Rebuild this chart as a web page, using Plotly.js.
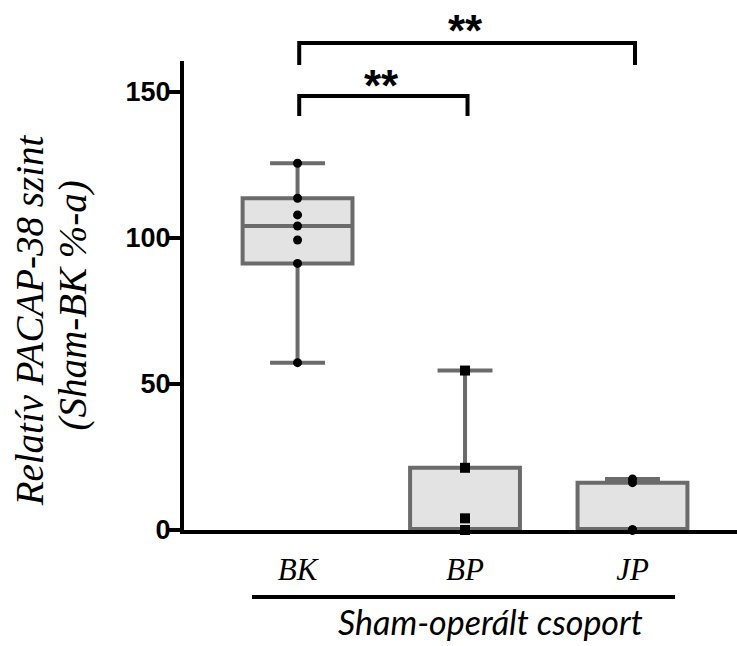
<!DOCTYPE html>
<html>
<head>
<meta charset="utf-8">
<script src="https://cdn.plot.ly/plotly-3.0.1.min.js"></script>
<style>
  html, body { margin: 0; padding: 0; background: #ffffff; }
  #chart { width: 737px; height: 646px; }
</style>
</head>
<body>
<div id="chart"></div>
<script>
// Groups of the sham-operated cohort
const groups = ['BK', 'BP', 'JP'];

// Relative PACAP-38 level per animal (% of Sham-BK)
const valuesBK = [125.6, 113.6, 107.9, 104.1, 99.3, 91.3, 57.3];
const valuesBP = [54.6, 21.3, 4.0, 0, 0, 0, 0];
const valuesJP = [17.5, 16.2, 0, 0, 0, 0];

// Y axis ticks
const yTicks = [0, 50, 100, 150];

// Significance comparisons: [from group, to group, label]
const comparisons = [
  ['BK', 'BP', '**'],
  ['BK', 'JP', '**']
];

const SERIF = 'Liberation Serif';
const SANS = 'Liberation Sans';

// Quartiles with the median excluded from both halves, whiskers to min/max
function median(sorted) {
  const n = sorted.length;
  const m = Math.floor(n / 2);
  return n % 2 ? sorted[m] : (sorted[m - 1] + sorted[m]) / 2;
}
function boxStats(vals) {
  const s = vals.slice().sort((a, b) => a - b);
  const n = s.length;
  return {
    min: s[0],
    max: s[n - 1],
    med: median(s),
    q1: median(s.slice(0, Math.floor(n / 2))),
    q3: median(s.slice(Math.ceil(n / 2)))
  };
}

const allValues = [valuesBK, valuesBP, valuesJP];
const stats = allValues.map(boxStats);

const boxTrace = {
  type: 'box',
  x: groups,
  q1: stats.map(s => s.q1),
  median: stats.map(s => s.med),
  q3: stats.map(s => s.q3),
  lowerfence: stats.map(s => s.min),
  upperfence: stats.map(s => s.max),
  boxpoints: false,
  width: 0.656,
  whiskerwidth: 0.5,
  fillcolor: '#e3e3e3',
  line: { color: '#6b6b6b', width: 4 },
  hoverinfo: 'skip',
  showlegend: false
};

const symbols = ['circle', 'square', 'circle'];
const sizes = [9, 10, 9];
const pointTraces = allValues.map((vals, i) => ({
  type: 'scatter',
  mode: 'markers',
  x: vals.map(() => groups[i]),
  y: vals,
  marker: { color: '#000000', symbol: symbols[i], size: sizes[i] },
  cliponaxis: false,
  hoverinfo: 'skip',
  showlegend: false
}));

// Brackets drawn above the plot, in paper units vertically
const bracketLevels = [
  { top: 0.9254, end: 0.8827, labelY: 0.948 },
  { top: 1.0384, end: 0.9915, labelY: 1.064 }
];

const shapes = [];
const annotations = [];
comparisons.forEach((c, k) => {
  const a = groups.indexOf(c[0]);
  const b = groups.indexOf(c[1]);
  const lv = bracketLevels[k];
  shapes.push({
    type: 'path', xref: 'x', yref: 'paper',
    path: `M ${a + 0.01},${lv.end} L ${a + 0.01},${lv.top} L ${b + 0.015},${lv.top} L ${b + 0.015},${lv.end}`,
    line: { color: '#000000', width: 4 }
  });
  annotations.push({
    xref: 'x', yref: 'paper', x: (a + b) / 2, y: lv.labelY,
    text: c[2], showarrow: false, xanchor: 'center', yanchor: 'middle',
    font: { family: SANS, size: 44, weight: 'bold', color: '#000000' }
  });
});

// Group underline and its caption
shapes.push({
  type: 'line', xref: 'paper', yref: 'paper',
  x0: 0.123, x1: 0.888, y0: -0.1429, y1: -0.1429,
  line: { color: '#000000', width: 4 }
});
annotations.push({
  xref: 'paper', yref: 'paper', x: 0.555, y: -0.2435,
  text: 'Sham-operált csoport', showarrow: false,
  xanchor: 'center', yanchor: 'bottom',
  font: { family: 'Lato', size: 34, style: 'italic', color: '#000000' }
});

// Two-line y axis title
annotations.push({
  xref: 'paper', yref: 'paper', x: -0.2803, y: 0.447,
  text: 'Relatív PACAP-38 szint', showarrow: false, textangle: -90,
  xanchor: 'center', yanchor: 'middle',
  font: { family: SERIF, size: 39, style: 'italic', color: '#000000' }
});
annotations.push({
  xref: 'paper', yref: 'paper', x: -0.2, y: 0.4797,
  text: '(Sham-BK %-a)', showarrow: false, textangle: -90,
  xanchor: 'center', yanchor: 'middle',
  font: { family: SERIF, size: 39, style: 'italic', color: '#000000' }
});

const layout = {
  width: 737,
  height: 646,
  margin: { l: 184, r: 0, t: 61, b: 116 },
  paper_bgcolor: '#ffffff',
  plot_bgcolor: '#ffffff',
  showlegend: false,
  xaxis: {
    type: 'category',
    categoryarray: groups,
    range: [-0.678, 2.624],
    showgrid: false,
    zeroline: false,
    showline: true,
    linewidth: 4,
    linecolor: '#000000',
    ticks: '',
    ticklabelstandoff: 9,
    tickfont: { family: SERIF, size: 31, style: 'italic', color: '#000000' },
    fixedrange: true
  },
  yaxis: {
    range: [0, 160.6],
    tickvals: yTicks,
    ticktext: yTicks.map(String),
    showgrid: false,
    zeroline: false,
    showline: true,
    linewidth: 4,
    linecolor: '#000000',
    ticks: 'outside',
    ticklen: 13,
    tickwidth: 4,
    tickcolor: '#000000',
    ticklabelstandoff: -9,
    tickfont: { family: SANS, size: 27, weight: 'bold', color: '#000000' },
    fixedrange: true
  },
  shapes: shapes,
  annotations: annotations
};

Plotly.newPlot('chart', [boxTrace].concat(pointTraces), layout, { staticPlot: true, displayModeBar: false });
</script>
</body>
</html>
